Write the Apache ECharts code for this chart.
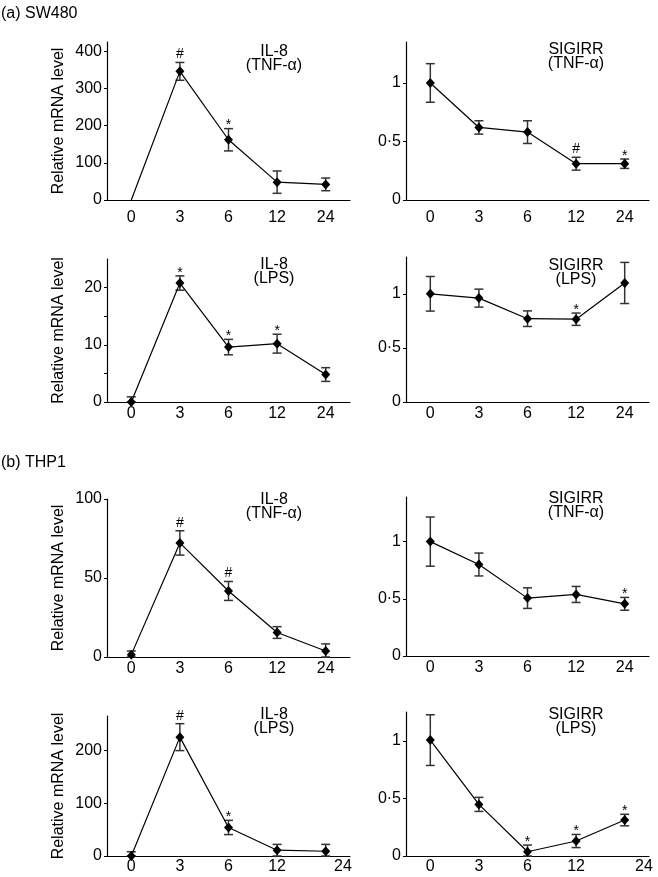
<!DOCTYPE html>
<html><head><meta charset="utf-8">
<script src="https://cdn.jsdelivr.net/npm/echarts@6/dist/echarts.min.js"></script>
<style>html,body{margin:0;padding:0;background:#fff}#c{width:658px;height:877px}</style>
</head><body><div id="c"></div>
<script>
// ---- data ----
const hours = ['0', '3', '6', '12', '24'];

// (a) SW480
const swIl8Tnf = [0, 346, 162, 48, 42];
const swIl8TnfErr = [0, 24, 30, 30, 17];
const swIl8TnfAnn = ['', '#', '*', '', ''];

const swSigTnf = [1.0, 0.62, 0.58, 0.31, 0.31];
const swSigTnfErr = [0.165, 0.057, 0.097, 0.055, 0.04];
const swSigTnfAnn = ['', '', '', '#', '*'];

const swIl8Lps = [0, 20.8, 9.6, 10.2, 4.8];
const swIl8LpsErr = [0.9, 1.25, 1.35, 1.65, 1.2];
const swIl8LpsAnn = ['', '*', '*', '*', ''];

const swSigLps = [1.0, 0.96, 0.77, 0.765, 1.10];
const swSigLpsErr = [0.16, 0.083, 0.072, 0.057, 0.19];
const swSigLpsAnn = ['', '', '', '*', ''];

// (b) THP1
const thIl8Tnf = [1.5, 72.2, 41.8, 15.5, 3.8];
const thIl8TnfErr = [2.3, 7.7, 6, 3.7, 4.5];
const thIl8TnfAnn = ['', '#', '#', '', ''];

const thSigTnf = [1.0, 0.80, 0.506, 0.538, 0.456];
const thSigTnfErr = [0.215, 0.10, 0.09, 0.07, 0.056];
const thSigTnfAnn = ['', '', '', '', '*'];

const thIl8Lps = [0, 225, 54, 11, 9];
const thIl8LpsErr = [8, 25.5, 13.5, 11, 13];
const thIl8LpsAnn = ['', '#', '*', '', ''];

const thSigLps = [1.006, 0.448, 0.037, 0.13, 0.312];
const thSigLpsErr = [0.22, 0.061, 0.058, 0.057, 0.05];
const thSigLpsAnn = ['', '', '*', '*', '*'];

// tick values
const il8SwTnfTicks = [0, 100, 200, 300, 400];
const il8SwLpsTicks = [0, 5, 10, 15, 20];
const il8SwLpsLabels = [0, 10, 20];
const il8ThTnfTicks = [0, 50, 100];
const il8ThLpsTicks = [0, 100, 200];
const sigTicks = [0, 0.5, 1];

const yName = 'Relative mRNA level';
const titles = ['IL-8\n(TNF-α)', 'SIGIRR\n(TNF-α)', 'IL-8\n(LPS)', 'SIGIRR\n(LPS)',
                'IL-8\n(TNF-α)', 'SIGIRR\n(TNF-α)', 'IL-8\n(LPS)', 'SIGIRR\n(LPS)'];

// ---- layout ----
const FONT = '"Liberation Sans", Arial, sans-serif';
const panels = [
  {g:{left:107, top:42, w:243, h:158}, m:swIl8Tnf, e:swIl8TnfErr, a:swIl8TnfAnn, max:425, ticks:il8SwTnfTicks, labels:il8SwTnfTicks, yname:true, lm:10, t:[274, 59]},
  {g:{left:406, top:42, w:243, h:158}, m:swSigTnf, e:swSigTnfErr, a:swSigTnfAnn, max:1.35, ticks:sigTicks, labels:sigTicks, yname:false, lm:10, t:[576, 57]},
  {g:{left:107, top:259, w:243, h:143}, m:swIl8Lps, e:swIl8LpsErr, a:swIl8LpsAnn, max:25, ticks:il8SwLpsTicks, labels:il8SwLpsLabels, yname:true, lm:4, t:[274, 272]},
  {g:{left:406, top:257, w:243, h:145}, m:swSigLps, e:swSigLpsErr, a:swSigLpsAnn, max:1.34, ticks:sigTicks, labels:sigTicks, yname:false, lm:4, t:[576, 273]},
  {g:{left:107, top:499, w:243, h:158}, m:thIl8Tnf, e:thIl8TnfErr, a:thIl8TnfAnn, max:100, ticks:il8ThTnfTicks, labels:il8ThTnfTicks, yname:true, lm:4, t:[274, 507]},
  {g:{left:406, top:497, w:243, h:159}, m:thSigTnf, e:thSigTnfErr, a:thSigTnfAnn, max:1.39, ticks:sigTicks, labels:sigTicks, yname:false, lm:4, t:[576, 506]},
  {g:{left:107, top:716, w:243, h:140}, m:thIl8Lps, e:thIl8LpsErr, a:thIl8LpsAnn, max:265, ticks:il8ThLpsTicks, labels:il8ThLpsTicks, yname:true, lm:3, t:[274, 722], endName:-7},
  {g:{left:406, top:712, w:243, h:144}, m:thSigLps, e:thSigLpsErr, a:thSigLpsAnn, max:1.25, ticks:sigTicks, labels:sigTicks, yname:false, lm:3, t:[576, 722], endName:-5}
];

function errRenderer(ann) {
  return function (params, api) {
    const x = api.value(0), lo = api.value(1), hi = api.value(2);
    if (hi - lo <= 0) return null;
    const pLo = api.coord([x, lo]), pHi = api.coord([x, hi]);
    const cx = pLo[0];
    const st = {stroke: '#333', lineWidth: 1.5};
    const cw = 4.5;
    const children = [
      {type: 'line', shape: {x1: cx, y1: pLo[1], x2: cx, y2: pHi[1]}, style: st},
      {type: 'line', shape: {x1: cx - cw, y1: pLo[1], x2: cx + cw, y2: pLo[1]}, style: st},
      {type: 'line', shape: {x1: cx - cw, y1: pHi[1], x2: cx + cw, y2: pHi[1]}, style: st}
    ];
    const a = ann[params.dataIndex];
    if (a) {
      children.push({type: 'text', style: {
        text: a, x: cx, y: pHi[1] + (a === '*' ? 4 : -1),
        textAlign: 'center', textVerticalAlign: 'bottom',
        font: (a === '*' ? '14px ' : '14px ') + FONT, fill: '#000'}});
    }
    return {type: 'group', children: children};
  };
}

const grid = [], xAxis = [], yAxis = [], series = [], graphic = [];
panels.forEach((p, i) => {
  grid.push({left: p.g.left, top: p.g.top, width: p.g.w, height: p.g.h, containLabel: false});
  const xa = {
    type: 'category', gridIndex: i, data: hours, boundaryGap: true,
    axisLine: {lineStyle: {color: '#000', width: 1.2}},
    axisTick: {inside: true, length: 4, lineStyle: {color: '#000', width: 1}},
    axisLabel: {interval: 0, fontSize: 16, fontFamily: FONT, color: '#000', margin: p.lm},
    splitLine: {show: false}
  };
  if (p.endName !== undefined) {
    xa.axisLabel.formatter = (v, idx) => idx === hours.length - 1 ? '' : v;
    xa.name = hours[hours.length - 1];
    xa.nameLocation = 'end';
    xa.nameGap = p.endName;
    xa.nameTextStyle = {fontSize: 16, fontFamily: FONT, color: '#000', align: 'center', verticalAlign: 'top', padding: [p.lm, 0, 0, 0]};
  }
  xAxis.push(xa);
  const ya = {
    type: 'value', gridIndex: i, min: 0, max: p.max,
    axisLine: {show: true, lineStyle: {color: '#000', width: 1.2}},
    axisTick: {show: true, inside: false, length: 3, lineStyle: {color: '#000', width: 1}, customValues: p.ticks},
    axisLabel: {fontSize: 16, fontFamily: FONT, color: '#000', margin: 5, customValues: p.labels,
      formatter: v => String(v).replace('.', '·')},
    splitLine: {show: false}
  };
  if (p.yname) {
    ya.name = yName;
    ya.nameLocation = 'middle';
    ya.nameGap = 40;
    ya.nameTextStyle = {fontSize: 16, fontFamily: FONT, color: '#000'};
  }
  yAxis.push(ya);
  const errs = p.e;
  series.push({
    type: 'custom', xAxisIndex: i, yAxisIndex: i, z: 2,
    renderItem: errRenderer(p.a),
    data: p.m.map((v, k) => [k, Math.max(0, v - p.e[k]), v + p.e[k]]),
    silent: true, animation: false
  });
  series.push({
    type: 'line', xAxisIndex: i, yAxisIndex: i, z: 3,
    data: p.m, symbol: 'diamond',
    // a zero point without error bar is hidden behind the axis in the original
    symbolSize: (v, prm) => (v === 0 && errs[prm.dataIndex] === 0) ? 0 : [9, 10],
    showSymbol: true,
    lineStyle: {color: '#000', width: 1.2},
    itemStyle: {color: '#000'}, animation: false, silent: true
  });
  graphic.push({type: 'text', x: p.t[0], y: p.t[1], style: {
    text: titles[i], textAlign: 'center', textVerticalAlign: 'middle',
    font: '16px ' + FONT, fill: '#000', lineHeight: 14}});
});

graphic.push({type: 'text', x: 1, y: 14, style: {text: '(a) SW480', textVerticalAlign: 'middle', font: '16px ' + FONT, fill: '#000'}});
graphic.push({type: 'text', x: 1, y: 463, style: {text: '(b) THP1', textVerticalAlign: 'middle', font: '16px ' + FONT, fill: '#000'}});

const chart = echarts.init(document.getElementById('c'), null, {renderer: 'canvas'});
chart.setOption({
  backgroundColor: '#fff',
  animation: false,
  grid, xAxis, yAxis, series, graphic
});
</script>
</body></html>
